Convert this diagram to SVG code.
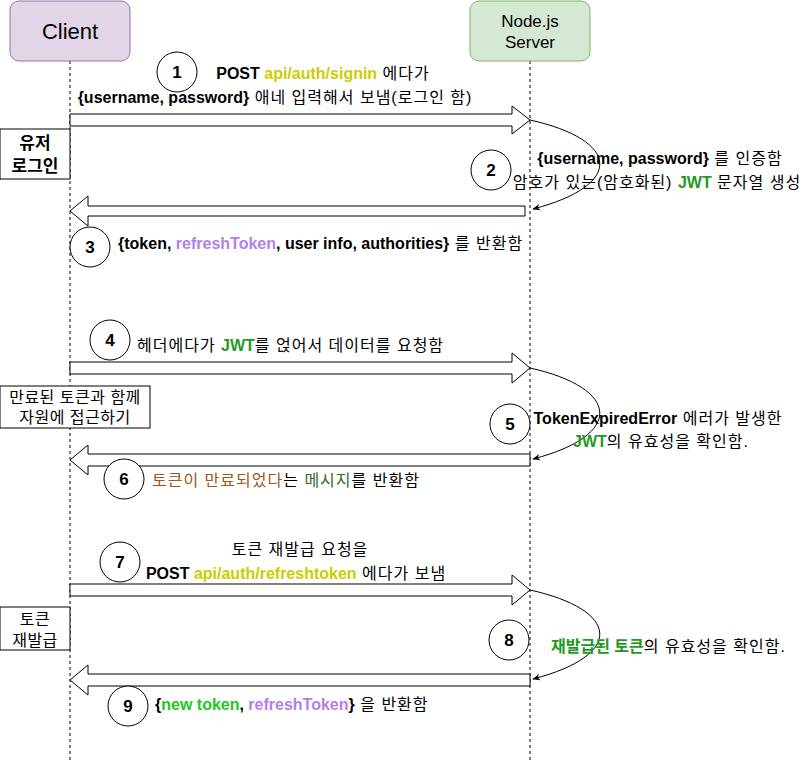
<svg xmlns="http://www.w3.org/2000/svg" width="811" height="762" viewBox="0 0 811 762">
<defs>
<marker id="ah" viewBox="0 0 10 10" refX="9" refY="5" markerWidth="8" markerHeight="8" orient="auto-start-reverse" markerUnits="userSpaceOnUse">
<path d="M0,1 L10,5 L0,9 L3,5 Z" fill="#000"/>
</marker>
</defs>
<style>
text{font-family:"Liberation Sans","Noto Sans CJK KR",Arial,sans-serif;fill:#000}
.lbl{font-size:16px;font-weight:bold}
.ko{font-weight:normal;letter-spacing:1px}
.num{font-size:17px;font-weight:bold;text-anchor:middle}
.circ{fill:#fff;stroke:#000;stroke-width:1}
.blk{fill:#fff;stroke:#000;stroke-width:1}
.life{stroke:#000;stroke-width:1;stroke-dasharray:3,3;fill:none}
.curve{fill:none;stroke:#000;stroke-width:1;marker-end:url(#ah)}
.note{fill:#fff;stroke:#000;stroke-width:1}
.nt{font-size:17px;font-weight:bold;text-anchor:middle}
.nk{font-size:16px;text-anchor:middle;letter-spacing:0.5px}
.yl{fill:#CCCC00}
.pu{fill:#B27FEA}
.gr{fill:#1F9A1F}
.br{fill:#A0561A}
.dg{fill:#2E6B2E}
.ng{fill:#22C722}
</style>
<rect width="811" height="762" fill="#fff"/>
<g id="lifelines">
<line class="life" x1="70" y1="61" x2="70" y2="762"/>
<line class="life" x1="530" y1="61" x2="530" y2="762" stroke="#555"/>
</g>
<g id="client">
<rect x="10" y="1" width="120" height="60" rx="9" fill="#e1d5e7" stroke="#9673a6"/>
<text x="70" y="39" font-size="22" text-anchor="middle" fill="#333">Client</text>
</g>
<g id="server">
<rect x="470" y="1" width="120" height="60" rx="9" fill="#d5e8d4" stroke="#82b366"/>
<text x="530" y="27" font-size="17" text-anchor="middle" fill="#333">Node.js</text>
<text x="530" y="48" font-size="17" text-anchor="middle" fill="#333">Server</text>
</g>
<g id="connectors">
<polygon class="blk" points="70,114 512,114 512,106 530,120 512,134 512,126 70,126"/>
<path class="curve" d="M530,120 C620,140 625,185 533,209"/>
<polygon class="blk" points="525,206 88,206 88,196 70,211 88,226 88,216 525,216"/>
<polygon class="blk" points="70,362 512,362 512,353 530,368 512,383 512,374 70,374"/>
<path class="curve" d="M530,368 C620,388 625,435 533,459"/>
<polygon class="blk" points="530,454 88,454 88,445 70,460 88,475 88,466 530,466"/>
<polygon class="blk" points="70,584 512,584 512,575 530,590 512,605 512,596 70,596"/>
<path class="curve" d="M530,590 C620,610 625,655 533,679"/>
<polygon class="blk" points="530,674 88,674 88,665 70,680 88,695 88,686 530,686"/>
</g>
<g id="note-login">
<rect class="note" x="0" y="129" width="70" height="50"/>
<text class="nt" x="35" y="149">유저</text>
<text class="nt" x="35" y="172">로그인</text>
</g>
<g id="note-expired">
<rect class="note" x="0" y="386" width="150" height="42"/>
<text class="nk" x="75" y="403">만료된 토큰과 함께</text>
<text class="nk" x="75" y="423">자원에 접근하기</text>
</g>
<g id="note-reissue">
<rect class="note" x="0" y="607" width="70" height="43"/>
<text class="nk" x="35" y="625">토큰</text>
<text class="nk" x="35" y="646">재발급</text>
</g>
<g id="step1">
<circle class="circ" cx="177" cy="72" r="20"/>
<text class="num" x="177" y="78">1</text>
<text class="lbl" x="323" y="79" text-anchor="middle">POST <tspan class="yl">api/auth/signin</tspan><tspan class="ko"> 에다가</tspan></text>
<text class="lbl" x="275" y="103" text-anchor="middle">{username, password}<tspan class="ko"> 애네 입력해서 보냄(로그인 함)</tspan></text>
</g>
<g id="step2">
<circle class="circ" cx="491" cy="170" r="20"/>
<text class="num" x="491" y="176">2</text>
<text class="lbl" x="660" y="164" text-anchor="middle">{username, password}<tspan class="ko"> 를 인증함</tspan></text>
<text class="lbl" x="657" y="188" text-anchor="middle"><tspan class="ko">암호가 있는(암호화된) </tspan><tspan class="gr">JWT</tspan><tspan class="ko"> 문자열 생성</tspan></text>
</g>
<g id="step3">
<circle class="circ" cx="90" cy="247" r="20"/>
<text class="num" x="90" y="253">3</text>
<text class="lbl" x="118" y="249">{token, <tspan class="pu">refreshToken</tspan>, user info, authorities}<tspan class="ko"> 를 반환함</tspan></text>
</g>
<g id="step4">
<circle class="circ" cx="110" cy="340" r="20"/>
<text class="num" x="110" y="346">4</text>
<text class="lbl" x="137" y="351"><tspan class="ko">헤더에다가 </tspan><tspan class="gr">JWT</tspan><tspan class="ko">를 얹어서 데이터를 요청함</tspan></text>
</g>
<g id="step5">
<circle class="circ" cx="510" cy="424" r="20"/>
<text class="num" x="510" y="430">5</text>
<text class="lbl" x="658" y="424" text-anchor="middle">TokenExpiredError<tspan class="ko"> 에러가 발생한</tspan></text>
<text class="lbl" x="661" y="447" text-anchor="middle"><tspan class="gr">JWT</tspan><tspan class="ko">의 유효성을 확인함.</tspan></text>
</g>
<g id="step6">
<circle class="circ" cx="124" cy="479" r="20"/>
<text class="num" x="124" y="485">6</text>
<text class="lbl ko" x="152" y="486"><tspan class="br">토큰이 만료되었다</tspan>는 <tspan class="dg">메시지</tspan>를 반환함</text>
</g>
<g id="step7">
<circle class="circ" cx="120" cy="562" r="20"/>
<text class="num" x="120" y="568">7</text>
<text class="lbl ko" x="300" y="555" text-anchor="middle">토큰 재발급 요청을</text>
<text class="lbl" x="296" y="579" text-anchor="middle">POST <tspan class="yl">api/auth/refreshtoken</tspan><tspan class="ko"> 에다가 보냄</tspan></text>
</g>
<g id="step8">
<circle class="circ" cx="509" cy="640" r="20"/>
<text class="num" x="509" y="646">8</text>
<text class="lbl" x="551" y="652"><tspan class="gr">재발급된 토큰</tspan><tspan class="ko">의 유효성을 확인함.</tspan></text>
</g>
<g id="step9">
<circle class="circ" cx="128" cy="706" r="20"/>
<text class="num" x="128" y="712">9</text>
<text class="lbl" x="155" y="710">{<tspan class="ng">new token</tspan>, <tspan class="pu">refreshToken</tspan>}<tspan class="ko"> 을 반환함</tspan></text>
</g>
</svg>
